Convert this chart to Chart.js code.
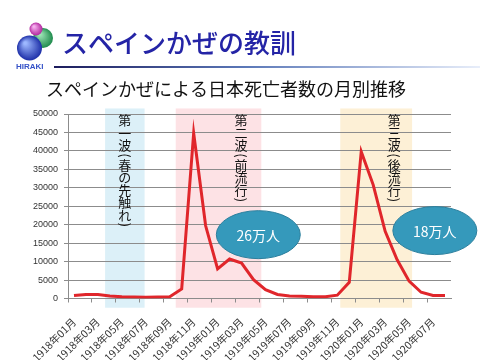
<!DOCTYPE html>
<html>
<head>
<meta charset="utf-8">
<script src="https://cdn.jsdelivr.net/npm/chart.js@4"></script>
<style>
  html, body { margin: 0; padding: 0; background: #fff; }
  #wrap { width: 480px; height: 360px; position: relative; }
</style>
</head>
<body>
<div id="wrap"><canvas id="c" width="480" height="360"></canvas></div>
<script>
/* スペインかぜ — monthly deaths in Japan, 1918/01 - 1920/08 */

const months = [
  '1918年01月','1918年02月','1918年03月','1918年04月','1918年05月','1918年06月',
  '1918年07月','1918年08月','1918年09月','1918年10月','1918年11月','1918年12月',
  '1919年01月','1919年02月','1919年03月','1919年04月','1919年05月','1919年06月',
  '1919年07月','1919年08月','1919年09月','1919年10月','1919年11月','1919年12月',
  '1920年01月','1920年02月','1920年03月','1920年04月','1920年05月','1920年06月',
  '1920年07月','1920年08月'
];
const deaths = [
  800, 1100, 1100, 700, 450, 400, 350, 400, 450, 2600, 44800, 19700,
  8000, 10700, 9600, 5100, 2400, 1100, 700, 600, 500, 500, 900, 4400,
  39800, 30800, 18200, 10500, 4700, 1700, 800, 800
];
const waveNames = ['第一波（春の先触れ）', '第二波（前流行）', '第三波（後流行）'];
const waveTotals = ['26万人', '18万人'];

const TITLE = 'スペインかぜの教訓';
const SUBTITLE = 'スペインかぜによる日本死亡者数の月別推移';
const JP = '"Noto Sans CJK JP", "Noto Sans", sans-serif';

// shaded periods, in category units (index of month)
const waveBands = [
  { from: 2.6, to: 5.9, fill: '#dcf0f8', textAt: 4.25 },
  { from: 8.5, to: 15.65, fill: '#fde2e5', textAt: 13.95 },
  { from: 22.25, to: 28.25, fill: '#fdf0d6', textAt: 26.75 }
];
const bubbles = [
  { at: 15.4, val: 17300 },
  { at: 30.15, val: 18400 }
];

function ball(ctx, x, y, r, light, dark) {
  const g = ctx.createRadialGradient(x - r * 0.35, y - r * 0.4, r * 0.1, x, y, r);
  g.addColorStop(0, light);
  g.addColorStop(1, dark);
  ctx.fillStyle = g;
  ctx.beginPath(); ctx.arc(x, y, r, 0, Math.PI * 2); ctx.fill();
}

function vText(ctx, s, cx, top) {
  let yy = top;
  for (const ch of s) {
    if (ch === '（' || ch === '）') {
      ctx.save();
      ctx.translate(cx, yy + 4);
      ctx.rotate(Math.PI / 2);
      ctx.textAlign = 'center'; ctx.textBaseline = 'middle';
      ctx.fillText(ch === '（' ? '(' : ')', 0, 0);
      ctx.restore();
      yy += 7;
    } else {
      ctx.textAlign = 'center'; ctx.textBaseline = 'top';
      ctx.fillText(ch, cx, yy);
      yy += 12.5;
    }
  }
}

const deco = {
  id: 'deco',
  beforeDraw(chart) {
    const { ctx } = chart, x = chart.scales.x, y = chart.scales.y;
    ctx.save();
    ctx.fillStyle = '#fff';
    ctx.fillRect(0, 0, chart.width, chart.height);

    // logo
    ball(ctx, 43, 38, 10, '#9fe6b8', '#1e8a4c');
    ball(ctx, 36, 29, 6.5, '#f7b2f0', '#b2279e');
    ball(ctx, 29.5, 48, 12.5, '#9db8ff', '#1d2fa8');
    ctx.font = 'bold 8px "Liberation Sans", sans-serif';
    ctx.fillStyle = '#3552c8';
    ctx.textAlign = 'left'; ctx.textBaseline = 'middle';
    ctx.fillText('HIRAKI', 16, 66.5);

    // title + rule
    ctx.font = '500 26px ' + JP;
    ctx.fillStyle = '#2424a6';
    ctx.textBaseline = 'alphabetic';
    ctx.fillText(TITLE, 62, 53);
    const lg = ctx.createLinearGradient(54, 0, 480, 0);
    lg.addColorStop(0, '#1c1c5c');
    lg.addColorStop(0.45, '#5b78b8');
    lg.addColorStop(1, '#e8eefa');
    ctx.fillStyle = lg;
    ctx.fillRect(54, 66, 426, 2);

    ctx.font = '18px ' + JP;
    ctx.fillStyle = '#111';
    ctx.fillText(SUBTITLE, 46, 96);

    // period shading
    const top = y.getPixelForValue(51500), bot = y.getPixelForValue(-2500);
    waveBands.forEach(b => {
      const x0 = x.getPixelForValue(b.from), x1 = x.getPixelForValue(b.to);
      ctx.fillStyle = b.fill;
      ctx.fillRect(x0, top, x1 - x0, bot - top);
    });
    ctx.restore();
  },
  afterDatasetsDraw(chart) {
    const { ctx } = chart, x = chart.scales.x, y = chart.scales.y;
    ctx.save();
    ctx.fillStyle = '#111';
    ctx.font = '13px ' + JP;
    waveBands.forEach((b, i) => {
      vText(ctx, waveNames[i], x.getPixelForValue(b.textAt), y.getPixelForValue(50000));
    });
    bubbles.forEach((b, i) => {
      const cx = x.getPixelForValue(b.at), cy = y.getPixelForValue(b.val);
      ctx.beginPath();
      ctx.ellipse(cx, cy, 42, 24, 0, 0, Math.PI * 2);
      ctx.fillStyle = '#3599bb';
      ctx.fill();
      ctx.strokeStyle = '#2b7f9d';
      ctx.lineWidth = 1;
      ctx.stroke();
      ctx.fillStyle = '#fff';
      ctx.font = '14px ' + JP;
      ctx.textAlign = 'center'; ctx.textBaseline = 'middle';
      ctx.fillText(waveTotals[i], cx, cy + 1);
    });
    ctx.restore();
  }
};

new Chart(document.getElementById('c').getContext('2d'), {
  type: 'line',
  data: {
    labels: months,
    datasets: [{
      data: deaths,
      borderColor: '#e0262b',
      borderWidth: 3,
      pointRadius: 0,
      tension: 0,
      fill: false
    }]
  },
  options: {
    responsive: false,
    animation: false,
    layout: { padding: { top: 114, right: 29, left: 0, bottom: 0 } },
    plugins: { legend: { display: false }, tooltip: { enabled: false } },
    scales: {
      x: {
        offset: true,
        afterFit(s) { s.height = 61.5; },
        grid: {
          offset: true,
          drawOnChartArea: false,
          tickLength: 4,
          tickColor: c => (c.index % 2 === 0 ? '#8c8c8c' : 'rgba(0,0,0,0)')
        },
        border: { color: '#8c8c8c' },
        ticks: {
          autoSkip: false,
          maxRotation: 45,
          minRotation: 45,
          padding: 13,
          color: '#333',
          font: { family: JP, size: 10.5 },
          callback(v, i) { return i % 2 === 0 ? months[i] : ''; }
        }
      },
      y: {
        min: 0,
        max: 50000,
        afterFit(s) { s.width = 68; },
        grid: { color: '#8c8c8c', tickLength: 4 },
        border: { color: '#8c8c8c' },
        ticks: {
          stepSize: 5000,
          padding: 6,
          color: '#333',
          font: { family: '"Liberation Sans", sans-serif', size: 9 },
          callback: v => String(v)
        }
      }
    }
  },
  plugins: [deco]
});
</script>
</body>
</html>
